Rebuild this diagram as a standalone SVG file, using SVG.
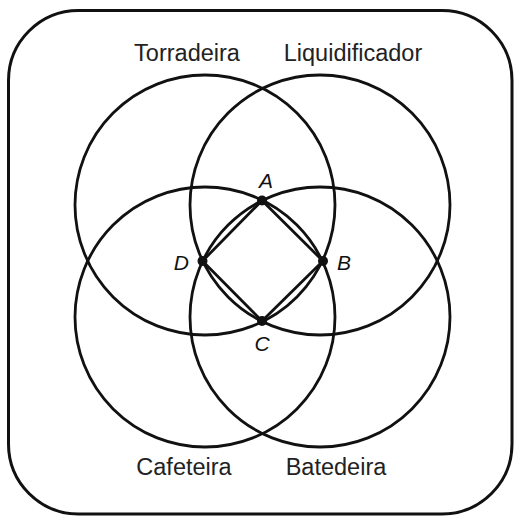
<svg xmlns="http://www.w3.org/2000/svg" width="515" height="517" viewBox="0 0 515 517">
<style>
.c{fill:none;stroke:#111;stroke-width:2.8}
.lbl{font-family:"Liberation Sans",Arial,sans-serif;font-size:23.5px;fill:#222;text-anchor:middle}
.pt{font-family:"Liberation Sans",Arial,sans-serif;font-size:21px;font-style:italic;fill:#111}
.dot{fill:#111}
</style>
<rect x="8.5" y="10.5" width="503.5" height="503.5" rx="70" ry="70" fill="#fff" stroke="#111" stroke-width="3"/>
<g id="torradeira">
<circle class="c" cx="205" cy="205" r="130"/>
<text class="lbl" x="187" y="61">Torradeira</text>
</g>
<g id="liquidificador">
<circle class="c" cx="320" cy="205" r="130"/>
<text class="lbl" x="353" y="61">Liquidificador</text>
</g>
<g id="cafeteira">
<circle class="c" cx="205" cy="317" r="130"/>
<text class="lbl" x="184" y="475">Cafeteira</text>
</g>
<g id="batedeira">
<circle class="c" cx="320" cy="317" r="130"/>
<text class="lbl" x="336" y="475">Batedeira</text>
</g>
<g id="square">
<polygon points="262,200.5 323,261 262,321 202.5,261" fill="none" stroke="#111" stroke-width="2.8" stroke-linejoin="miter"/>
</g>
<g id="points">
<circle class="dot" cx="262" cy="200.5" r="5"/>
<circle class="dot" cx="323" cy="261" r="5"/>
<circle class="dot" cx="262" cy="321" r="5"/>
<circle class="dot" cx="202.5" cy="261" r="5"/>
<text class="pt" x="266" y="188" text-anchor="middle">A</text>
<text class="pt" x="337" y="270">B</text>
<text class="pt" x="262" y="351" text-anchor="middle">C</text>
<text class="pt" x="189" y="270" text-anchor="end">D</text>
</g>
</svg>
